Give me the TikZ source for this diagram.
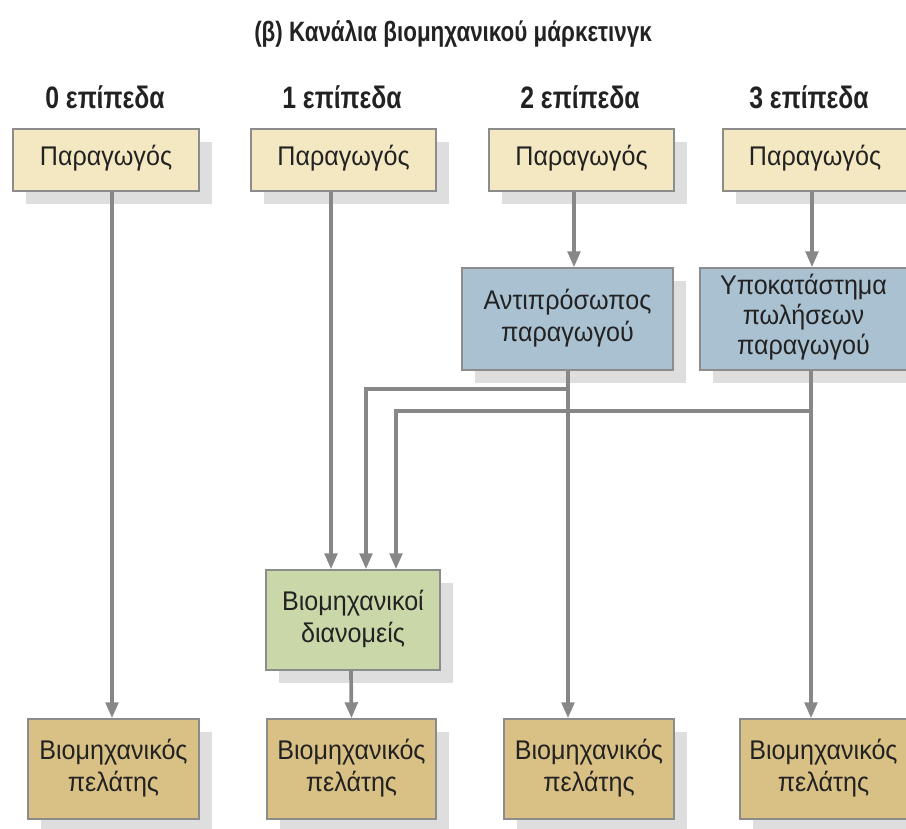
\documentclass[tikz,border=0pt]{standalone}
\usepackage{fontspec}
\setmainfont{Liberation Sans}
\newfontfamily\boxfont[FakeStretch=0.93]{Liberation Sans}
\newfontfamily\headfont[FakeStretch=0.8]{Liberation Sans}
\newfontfamily\titlefont[FakeStretch=0.8]{Liberation Sans}
\usetikzlibrary{arrows.meta,shadows}
\definecolor{prodfill}{HTML}{F3E8C2}
\definecolor{bluefill}{HTML}{A9C1D1}
\definecolor{greenfill}{HTML}{CAD7A8}
\definecolor{custfill}{HTML}{D9C084}
\definecolor{boxline}{HTML}{8C8C8C}
\definecolor{shadowgray}{HTML}{DEDEDE}
\definecolor{linegray}{HTML}{878787}
\definecolor{textdark}{HTML}{222222}
% box text: lines in a tabular, raised by #1
\newcommand\boxtext[2][0pt]{\raisebox{0pt}[\dimexpr\height-2\dimexpr#1\relax\relax][\depth]{\begin{tabular}{@{}c@{}}#2\end{tabular}}}
\tikzset{
  boxbase/.style={draw=boxline, line width=1.4pt, inner sep=0pt,
    text=textdark, font=\boxfont\fontsize{27}{32}\selectfont,
    drop shadow={shadow xshift=13pt, shadow yshift=-13pt, fill=shadowgray, opacity=1}},
  prodbox/.style={boxbase, fill=prodfill, minimum height=62pt},
  bluebox/.style={boxbase, fill=bluefill, minimum height=102pt},
  greenbox/.style={boxbase, fill=greenfill, minimum height=100pt},
  custbox/.style={boxbase, fill=custfill, minimum height=100pt},
  heading/.style={font=\headfont\bfseries\fontsize{31}{34}\selectfont, text=textdark, inner sep=0pt},
  titlestyle/.style={font=\titlefont\bfseries\fontsize{28}{32}\selectfont, text=textdark, inner sep=0pt},
  conn/.style={draw=linegray, line width=3.7pt},
  arr/.style={conn, -{Triangle[width=12.5pt,length=16pt]}},
}
\begin{document}
\begin{tikzpicture}[x=1pt,y=-1pt]
\useasboundingbox (0,0) rectangle (906,829);
% title and headings
\node[titlestyle] (title) at (453,34) {(β) Κανάλια βιομηχανικού μάρκετινγκ};
\node[heading] (h0) at (105,97) {0 επίπεδα};
\node[heading] (h1) at (342,97) {1 επίπεδα};
\node[heading] (h2) at (580,97) {2 επίπεδα};
\node[heading] (h3) at (809,97) {3 επίπεδα};
% producers
\node[prodbox, minimum width=186pt] (p0) at (106,160) {\boxtext[1pt]{Παραγωγός}};
\node[prodbox, minimum width=185pt] (p1) at (343.5,160) {\boxtext[1pt]{Παραγωγός}};
\node[prodbox, minimum width=185pt] (p2) at (581.5,160) {\boxtext[1pt]{Παραγωγός}};
\node[prodbox, minimum width=184pt] (p3) at (815,160) {\boxtext[1pt]{Παραγωγός}};
% intermediaries
\node[bluebox, minimum width=211pt] (a2) at (567.5,319) {\boxtext{Αντιπρόσωπος\\παραγωγού}};
\node[bluebox, minimum width=207pt] (a3) at (803.5,319) {\boxtext[1pt]{Υποκατάστημα\\[-2pt]πωλήσεων\\[-2pt]παραγωγού}};
\node[greenbox, minimum width=174pt] (d1) at (353,620) {\boxtext{Βιομηχανικοί\\διανομείς}};
% customers
\node[custbox, minimum width=171pt] (c0) at (113.5,769) {\boxtext{Βιομηχανικός\\πελάτης}};
\node[custbox, minimum width=169pt] (c1) at (351.5,769) {\boxtext{Βιομηχανικός\\πελάτης}};
\node[custbox, minimum width=170pt] (c2) at (589,769) {\boxtext{Βιομηχανικός\\πελάτης}};
\node[custbox, minimum width=167pt] (c3) at (823.5,769) {\boxtext{Βιομηχανικός\\πελάτης}};
% branch points
\coordinate (j2) at (568,389);
\coordinate (j3) at (811,411);
% connectors
\draw[arr] ([xshift=6pt]p0.south) -- ([xshift=-1.5pt]c0.north);
\draw[arr] ([xshift=-12.5pt]p1.south) -- ([xshift=-22pt]d1.north);
\draw[arr] ([xshift=-7.5pt]p2.south) -- ([xshift=6.5pt]a2.north);
\draw[arr] ([xshift=-3pt]p3.south) -- ([xshift=8.5pt]a3.north);
\draw[arr] ([xshift=0.5pt]a2.south) -- ([xshift=-21pt]c2.north);
\draw[arr] ([xshift=7.5pt]a3.south) -- ([xshift=-12.5pt]c3.north);
\draw[arr] (j2) -| ([xshift=13pt]d1.north);
\draw[arr] (j3) -| ([xshift=43pt]d1.north);
\draw[arr] ([xshift=-2pt]d1.south) -- (c1.north);
\end{tikzpicture}
\end{document}
